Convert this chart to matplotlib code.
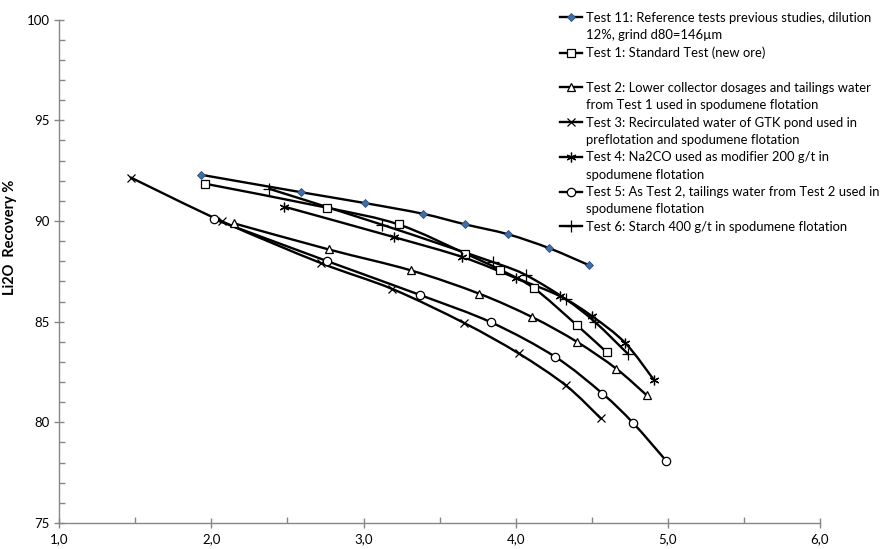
import numpy as np
import matplotlib
matplotlib.use("Agg")
import matplotlib.pyplot as plt
from matplotlib.path import Path
from matplotlib.patches import PathPatch
from matplotlib.lines import Line2D
from matplotlib.ticker import MultipleLocator, FuncFormatter

plt.rcParams['font.family'] = ['Lato', 'DejaVu Sans']

# values (mass pull %, Li2O recovery %)
t11_x = [1.93, 2.59, 3.01, 3.39, 3.67, 3.95, 4.22, 4.48]
t11_y = [92.30, 91.43, 90.89, 90.36, 89.83, 89.34, 88.65, 87.81]
t1_x = [1.96, 2.76, 3.23, 3.67, 3.90, 4.12, 4.40, 4.60]
t1_y = [91.85, 90.66, 89.83, 88.38, 87.57, 86.66, 84.84, 83.47]
t2_x = [2.15, 2.77, 3.31, 3.76, 4.11, 4.40, 4.66, 4.86]
t2_y = [89.88, 88.59, 87.55, 86.39, 85.22, 84.01, 82.67, 81.35]
t3_x = [1.47, 2.07, 2.72, 3.19, 3.66, 4.02, 4.33, 4.56]
t3_y = [92.16, 89.98, 87.91, 86.62, 84.94, 83.42, 81.83, 80.19]
t4_x = [2.48, 3.20, 3.65, 4.00, 4.29, 4.50, 4.72, 4.91]
t4_y = [90.71, 89.20, 88.21, 87.17, 86.27, 85.28, 83.94, 82.09]
t5_x = [2.02, 2.76, 3.37, 3.84, 4.26, 4.57, 4.77, 4.99]
t5_y = [90.08, 88.01, 86.33, 84.96, 83.25, 81.43, 79.98, 78.08]
t6_x = [2.38, 3.12, 3.85, 4.07, 4.33, 4.52, 4.74]
t6_y = [91.60, 89.82, 87.96, 87.30, 86.11, 84.99, 83.38]

labels = [
    "Test 11: Reference tests previous studies, dilution\n12%, grind d80=146\u00b5m",
    "Test 1: Standard Test (new ore)",
    "Test 2: Lower collector dosages and tailings water\nfrom Test 1 used in spodumene flotation",
    "Test 3: Recirculated water of GTK pond used in\npreflotation and spodumene flotation",
    "Test 4: Na2CO used as modifier 200 g/t in\nspodumene flotation",
    "Test 5: As Test 2, tailings water from Test 2 used in\nspodumene flotation",
    "Test 6: Starch 400 g/t in spodumene flotation",
]

series = [(t11_x, t11_y), (t1_x, t1_y), (t2_x, t2_y), (t3_x, t3_y),
          (t4_x, t4_y), (t5_x, t5_y), (t6_x, t6_y)]
styles = [
    dict(marker='D', ms=4, mfc='#3f6fa8', mec='#2c4f7c', mew=0.6),
    dict(marker='s', ms=6, mfc='white', mec='black', mew=0.9),
    dict(marker='^', ms=6, mfc='white', mec='black', mew=0.9),
    dict(marker='x', ms=6, mfc='none', mec='black', mew=0.9),
    dict(marker=(6, 2, 0), ms=7, mfc='none', mec='black', mew=0.9),
    dict(marker='o', ms=6, mfc='white', mec='black', mew=0.9),
    dict(marker='+', ms=8, mfc='none', mec='black', mew=0.9),
]

LW = 1.7


def smooth_path(x, y):
    # Excel style smoothed line: Catmull-Rom segments as cubic Bezier
    p = np.column_stack([x, y])
    n = len(p)
    verts = [p[0]]
    codes = [Path.MOVETO]
    for i in range(n - 1):
        p0 = p[i - 1] if i > 0 else p[i]
        p1 = p[i]
        p2 = p[i + 1]
        p3 = p[i + 2] if i + 2 < n else p[i + 1]
        c1 = p1 + (p2 - p0) / 6.0
        c2 = p2 - (p3 - p1) / 6.0
        verts += [c1, c2, p2]
        codes += [Path.CURVE4] * 3
    return Path(verts, codes)


fig = plt.figure(figsize=(8.82, 5.49), dpi=100)
ax = fig.add_axes([0.0672, 0.0474, 0.8625, 0.9167])

handles = []
for (x, y), st in zip(series, styles):
    ax.add_patch(PathPatch(smooth_path(x, y), fill=False, lw=LW, ec='black',
                           capstyle='round', joinstyle='round', zorder=2))
    ax.plot(x, y, ls='none', zorder=3, **st)
    handles.append(Line2D([], [], color='black', lw=LW, **st))

ax.set_xlim(1.0, 6.0)
ax.set_ylim(75, 100)
ax.xaxis.set_major_locator(MultipleLocator(1.0))
ax.xaxis.set_minor_locator(MultipleLocator(0.5))
ax.yaxis.set_major_locator(MultipleLocator(5))
ax.yaxis.set_minor_locator(MultipleLocator(1))
ax.xaxis.set_major_formatter(FuncFormatter(lambda v, p: f"{v:.1f}".replace('.', ',')))
ax.yaxis.set_major_formatter(FuncFormatter(lambda v, p: f"{v:.0f}"))

grey = '#868686'
for s in ['top', 'right']:
    ax.spines[s].set_visible(False)
for s in ['left', 'bottom']:
    ax.spines[s].set_color(grey)
    ax.spines[s].set_linewidth(1.0)
ax.tick_params(which='major', direction='inout', length=7, width=1.0, color=grey,
               labelsize=9.5, labelcolor='black')
ax.tick_params(which='minor', direction='in', length=4, width=1.0, color=grey)
ax.tick_params(axis='x', which='major', pad=4)
ax.set_ylabel("Li2O  Recovery %", fontsize=10.5, fontweight='bold')
ax.yaxis.set_label_coords(-0.056, 0.568)

# one legend row per text line so the marker sits on the first line,
# plus the empty row between Test 1 and Test 2 as in the original
blank = Line2D([], [], ls='none', marker='none')
leg_handles, leg_labels = [], []
for k, (h, lab) in enumerate(zip(handles, labels)):
    if k == 2:
        leg_handles.append(blank)
        leg_labels.append(" ")
    for j, line in enumerate(lab.split("\n")):
        leg_handles.append(h if j == 0 else blank)
        leg_labels.append(line)

leg = fig.legend(leg_handles, leg_labels, loc='upper left',
                 bbox_to_anchor=(560 / 882, 1 - 12 / 549), frameon=False,
                 fontsize=9.4, handlelength=1.7, handletextpad=0.3,
                 labelspacing=0.41, borderpad=0, borderaxespad=0)

fig.savefig("out.png", dpi=100)
